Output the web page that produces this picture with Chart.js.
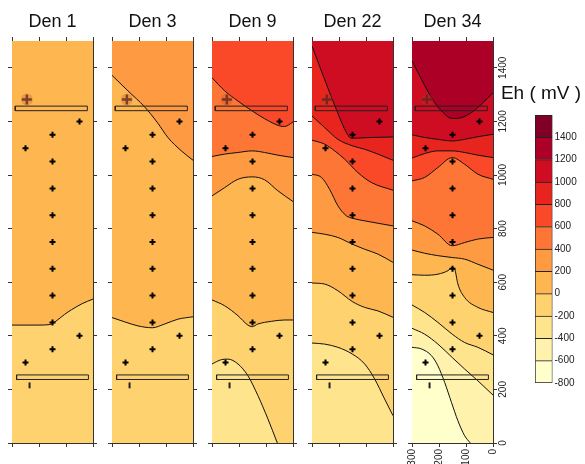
<!DOCTYPE html>
<html>
<head>
<meta charset="utf-8">
<script src="https://cdn.jsdelivr.net/npm/chart.js@4.4.0/dist/chart.umd.min.js"></script>
<style>
  body { margin: 0; background: #fff; width: 585px; height: 464px; position: relative; overflow: hidden; }
  canvas { position: absolute; top: 0; }
</style>
</head>
<body>
<canvas id="p0" width="141" height="464" style="left:-18px"></canvas>
<canvas id="p1" width="141" height="464" style="left:82px"></canvas>
<canvas id="p2" width="141" height="464" style="left:182px"></canvas>
<canvas id="p3" width="141" height="464" style="left:282px"></canvas>
<canvas id="p4" width="141" height="464" style="left:382px"></canvas>
<canvas id="cbar" width="88" height="340" style="left:497px;top:60px"></canvas>
<script>
// panels and colour key
const panelTitles = ['Den 1', 'Den 3', 'Den 9', 'Den 22', 'Den 34'];
const bandBreaks = [-800, -600, -400, -200, 0, 200, 400, 600, 800, 1000, 1200, 1400, 1600];
const bandColors = ['#FFFFCC', '#FFF2AC', '#FEE48D', '#FED26E', '#FEB650', '#FD9A42',
                    '#FD7635', '#FA4929', '#E8241F', '#CE0C22', '#AC0026', '#800026'];
const xTicks = [300, 200, 100, 0];
const yTicks = [0, 200, 400, 600, 800, 1000, 1200, 1400];

// sampling points (distance, depth)
const probeX = [50, 150, 250, 150, 150, 150, 150, 150, 150, 150, 50, 150, 250];
const probeY = [1200, 1150, 1100, 1050, 950, 850, 750, 650, 550, 450, 400, 350, 300];
const refX = [245];
const refY = [1282];
const topBarX = [288, 21, 21, 288, 288];
const topBarY = [1240, 1240, 1257, 1257, 1240];
const lowBarX = [283, 17, 17, 283, 283];
const lowBarY = [237, 237, 254, 254, 237];
const pinX = [235, 235];
const pinY = [204, 226];

// lower bound of the band filling the top of each panel
const topBand = [0, 200, 600, 1000, 1200];

// contour lines: [level, [[x, y], ...]]
const den1Lines = [
  [0, [[300,440],[200,440],[160,442],[150,446],[130,460],[105,480],[80,497],[40,520],[0,537]]]
];
const den3Lines = [
  [200, [[300,1372],[241,1314],[179,1254],[130,1193],[93,1140],[43,1090],[0,1055]]],
  [0, [[300,468],[253,452],[204,437],[151,430],[105,444],[56,462],[0,471]]]
];
const den9Lines = [
  [600, [[300,1363],[253,1314],[204,1276],[151,1239],[105,1210],[49,1183],[31,1181],[0,1198]]],
  [400, [[300,1069],[253,1078],[204,1084],[151,1090],[105,1084],[56,1074],[0,1065]]],
  [200, [[300,922],[253,953],[204,984],[151,993],[105,982],[56,941],[0,901]]],
  [0, [[300,534],[253,512],[204,475],[167,440],[151,434],[130,444],[80,454],[31,459],[0,459]]],
  [-200, [[300,295],[265,311],[241,313],[204,295],[167,251],[130,177],[93,90],[58,0]]]
];
const den22Lines = [
  [1000, [[300,1481],[214,1255],[169,1152],[154,1137],[80,1140],[0,1142]]],
  [800, [[300,1220],[253,1177],[204,1133],[151,1109],[105,1096],[56,1078],[0,1055]]],
  [600, [[300,1130],[253,1115],[216,1090],[179,1059],[130,1009],[80,972],[0,943]]],
  [400, [[300,1003],[265,991],[235,947],[204,885],[173,848],[148,838],[105,829],[56,820],[0,810]]],
  [200, [[300,786],[253,779],[204,767],[151,742],[105,723],[56,705],[0,674]]],
  [0, [[300,597],[253,593],[204,568],[151,528],[105,506],[56,493],[0,469]]],
  [-200, [[300,373],[253,369],[204,357],[151,332],[105,295],[68,239],[31,164],[0,102]]]
];
const den34Lines = [
  [1200, [[300,1426],[265,1357],[228,1289],[191,1239],[151,1211],[117,1214],[80,1233],[43,1264],[0,1307]]],
  [1000, [[300,1150],[253,1140],[204,1133],[151,1127],[105,1133],[56,1143],[0,1152]]],
  [800, [[300,1063],[253,1080],[204,1090],[151,1090],[105,1084],[56,1074],[0,1065]]],
  [600, [[300,978],[253,991],[204,1028],[151,1065],[105,1040],[56,1003],[0,984]]],
  [400, [[300,829],[253,810],[204,779],[151,736],[105,748],[56,761],[0,767]]],
  [200, [[300,720],[253,708],[204,699],[151,692],[105,686],[56,667],[0,645]]],
  [0, [[300,628],[253,626],[204,630],[167,643],[151,655],[142,649],[130,593],[105,543],[56,506],[0,487]]],
  [-200, [[300,515],[253,487],[204,450],[151,406],[105,375],[56,357],[0,329]]],
  [-400, [[300,428],[253,406],[204,369],[151,319],[105,276],[56,232],[0,179]]],
  [-600, [[300,357],[265,351],[228,326],[204,288],[179,226],[154,152],[130,83],[105,27],[84,0]]]
];
const panelLines = [den1Lines, den3Lines, den9Lines, den22Lines, den34Lines];

Chart.defaults.font.family = "'Liberation Sans', Arial, sans-serif";
Chart.defaults.animation = false;
const frame = '#333';

function bandColor(lo) {
  return bandColors[(lo - bandBreaks[0]) / 200];
}
function xy(xs, ys) {
  return xs.map((x, i) => ({ x: x, y: ys[i] }));
}

function panelDatasets(p) {
  const ds = [];
  ds.push({ data: xy(probeX, probeY), showLine: false, pointStyle: 'cross', pointRadius: 3,
            pointBorderWidth: 2, pointBorderColor: '#000', fill: false });
  ds.push({ data: xy(refX, refY), showLine: false, pointStyle: 'cross', pointRadius: 5,
            pointBorderWidth: 2.5, pointBorderColor: 'rgba(90,35,25,0.75)', fill: false });
  ds.push({ data: xy(refX, refY), showLine: false, pointStyle: 'circle', pointRadius: 6,
            pointBorderWidth: 0, pointBackgroundColor: 'rgba(170,70,50,0.25)', fill: false });
  [[topBarX, topBarY, 1], [lowBarX, lowBarY, 1], [pinX, pinY, 2]].forEach(([xs, ys, w]) => {
    ds.push({ data: xy(xs, ys), showLine: true, pointRadius: 0, borderColor: '#222',
              borderWidth: w, fill: false, tension: 0 });
  });
  // lowest contour first so it is painted last
  const lines = panelLines[p].slice().sort((a, b) => a[0] - b[0]);
  lines.forEach(([level, pts]) => {
    ds.push({ data: pts.map(([x, y]) => ({ x: x, y: y })), showLine: true, pointRadius: 0,
              borderColor: '#111', borderWidth: 1, cubicInterpolationMode: 'monotone',
              fill: 'start', backgroundColor: bandColor(level - 200) });
  });
  ds.push({ data: [{ x: 300, y: 1500 }, { x: 0, y: 1500 }], showLine: true, pointRadius: 0,
            borderColor: 'rgba(0,0,0,0)', borderWidth: 1, fill: 'start',
            backgroundColor: bandColor(topBand[p]) });
  return ds;
}

function edge(pos, min, max, ticks, extra) {
  return Object.assign({
    type: 'linear', position: pos, display: true, min: min, max: max,
    grid: { drawOnChartArea: false, drawTicks: true, tickLength: 4, color: frame },
    border: { display: true, color: frame, width: 1 },
    ticks: { display: false },
    afterBuildTicks: s => { s.ticks = ticks.map(v => ({ value: v })); }
  }, extra);
}

const rightLabels = {
  id: 'rightLabels',
  afterDraw(chart) {
    const ctx = chart.ctx;
    const y = chart.scales.y;
    const x0 = chart.scales.yRight.right + 6;
    ctx.save();
    ctx.fillStyle = '#222';
    ctx.font = "10px 'Liberation Sans', Arial, sans-serif";
    ctx.textAlign = 'center';
    ctx.textBaseline = 'middle';
    yTicks.forEach(v => {
      ctx.save();
      ctx.translate(x0, y.getPixelForValue(v));
      ctx.rotate(-Math.PI / 2);
      ctx.fillText(String(v), 0, 0);
      ctx.restore();
    });
    ctx.restore();
  }
};

panelTitles.forEach((title, p) => {
  const last = p === panelTitles.length - 1;
  new Chart(document.getElementById('p' + p), {
    type: 'line',
    data: { datasets: panelDatasets(p) },
    options: {
      responsive: false,
      layout: { padding: { left: 26, right: 26, top: 0, bottom: 0 } },
      plugins: {
        legend: { display: false },
        tooltip: { enabled: false },
        title: { display: true, text: title, color: '#111',
                 font: { size: 18, weight: 'normal' }, padding: { top: 11.5, bottom: 3.9 } }
      },
      scales: {
        x: edge('bottom', 0, 300, xTicks, {
          reverse: true,
          ticks: { display: last, minRotation: 90, maxRotation: 90, padding: 2,
                   color: '#222', font: { size: 10 }, callback: v => String(v) },
          afterFit: s => { s.height = 21; }
        }),
        xTop: edge('top', 0, 300, xTicks, { reverse: true, afterFit: s => { s.height = 4; } }),
        y: edge('left', 0, 1500, yTicks, { afterFit: s => { s.width = 4; } }),
        yRight: edge('right', 0, 1500, yTicks, { afterFit: s => { s.width = 4; } })
      }
    },
    plugins: last ? [rightLabels] : []
  });
});

// colour key
new Chart(document.getElementById('cbar'), {
  type: 'bar',
  data: {
    labels: [''],
    datasets: bandColors.map((c, i) => ({
      data: [[bandBreaks[i], bandBreaks[i + 1]]],
      yAxisID: 'y',
      backgroundColor: c,
      borderColor: '#222',
      borderWidth: { top: 1, left: 1, right: 1, bottom: i === 0 ? 1 : 0 },
      borderSkipped: false,
      grouped: false,
      barPercentage: 1,
      categoryPercentage: 1
    }))
  },
  options: {
    responsive: false,
    layout: { padding: { left: 0, right: 0, top: 0, bottom: 17 } },
    plugins: {
      legend: { display: false },
      tooltip: { enabled: false },
      title: { display: true, text: 'Eh ( mV )', color: '#111',
               font: { size: 19, weight: 'normal' }, padding: { top: 22, bottom: 10.2 } }
    },
    scales: {
      x: { display: false },
      y: {
        type: 'linear', position: 'right', min: -800, max: 1600,
        ticks: { padding: 2, color: '#222', font: { size: 10 }, callback: v => String(v) },
        grid: { display: false, drawTicks: false },
        border: { display: false },
        afterBuildTicks: s => { s.ticks = bandBreaks.slice(0, -1).map(v => ({ value: v })); },
        afterFit: s => { s.width = 32.5; }
      },
      yPad: { type: 'linear', position: 'left', display: true, min: 0, max: 1,
              ticks: { display: false }, grid: { display: false, drawTicks: false },
              border: { display: false }, afterFit: s => { s.width = 38; } }
    }
  }
});
</script>
</body>
</html>
